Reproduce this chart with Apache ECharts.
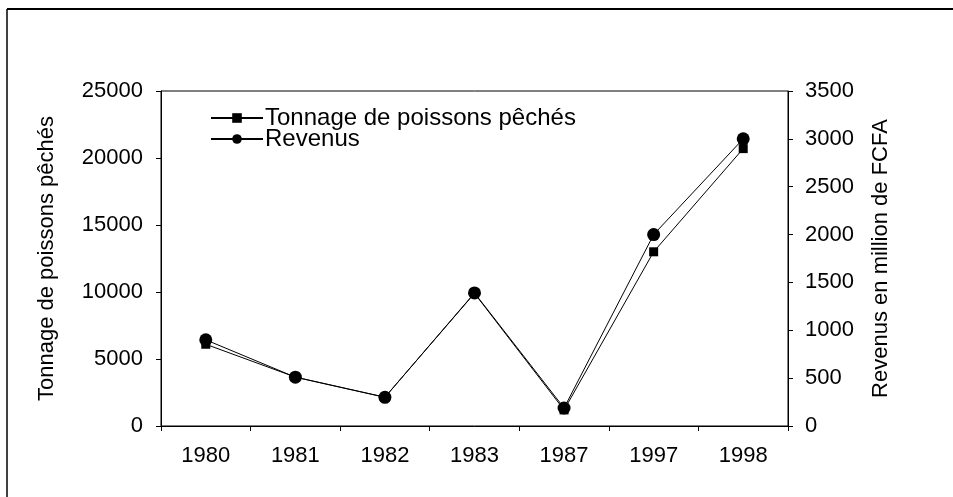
<!DOCTYPE html>
<html>
<head>
<meta charset="utf-8">
<script src="https://cdn.jsdelivr.net/npm/echarts@6/dist/echarts.min.js"></script>
<style>
  html, body { margin: 0; padding: 0; background: #fff; }
  #chart { width: 953px; height: 497px; }
</style>
</head>
<body>
<div id="chart"></div>
<script>
// données
const years = ['1980', '1981', '1982', '1983', '1987', '1997', '1998'];
const tonnage = [6100, 3650, 2150, 9900, 1200, 13000, 20700];   // axe gauche
const revenus = [900, 510, 300, 1390, 188, 2000, 3000];         // axe droit, million FCFA

const font = 'Liberation Sans, Arial, sans-serif';

let myChart = echarts.init(document.getElementById('chart'));
myChart.setOption({
  backgroundColor: '#fff',
  animation: false,
  textStyle: { fontFamily: font, color: '#000' },
  grid: {
    left: 161, right: 165, top: 91, bottom: 71,
    show: true, borderColor: '#000', borderWidth: 1
  },
  legend: {
    orient: 'vertical',
    left: 205, top: 101,
    itemWidth: 52, itemHeight: 12, itemGap: -3,
    textStyle: { fontSize: 24, color: '#000', fontFamily: font, padding: [0, 0, 0, -3] },
    data: ['Tonnage de poissons pêchés', 'Revenus']
  },
  xAxis: {
    type: 'category',
    data: years,
    boundaryGap: true,
    axisLine: { lineStyle: { color: '#000', width: 1 } },
    axisTick: { show: true, length: 5, lineStyle: { color: '#000' } },
    axisLabel: { color: '#000', fontSize: 22, margin: 19, fontFamily: font }
  },
  yAxis: [
    {
      type: 'value',
      min: 0, max: 25000, interval: 5000,
      name: 'Tonnage de poissons pêchés',
      nameLocation: 'middle', nameGap: 103, nameRotate: 90,
      nameTextStyle: { fontSize: 22, color: '#000', fontFamily: font },
      axisLine: { show: true, lineStyle: { color: '#000', width: 1 } },
      axisTick: { show: true, length: 5, lineStyle: { color: '#000' } },
      axisLabel: { color: '#000', fontSize: 22, margin: 18, fontFamily: font, formatter: v => String(v) },
      splitLine: { show: false }
    },
    {
      type: 'value',
      position: 'right',
      min: 0, max: 3500, interval: 500,
      name: 'Revenus en million de FCFA',
      nameLocation: 'middle', nameGap: 82, nameRotate: 90,
      nameTextStyle: { fontSize: 22, color: '#000', fontFamily: font },
      axisLine: { show: true, lineStyle: { color: '#000', width: 1 } },
      axisTick: { show: true, length: 5, lineStyle: { color: '#000' } },
      axisLabel: { color: '#000', fontSize: 22, margin: 17, fontFamily: font, formatter: v => String(v) },
      splitLine: { show: false }
    }
  ],
  series: [
    {
      name: 'Tonnage de poissons pêchés',
      type: 'line',
      yAxisIndex: 0,
      data: tonnage,
      symbol: 'rect',
      symbolSize: 9,
      itemStyle: { color: '#000' },
      lineStyle: { color: '#000', width: 1 }
    },
    {
      name: 'Revenus',
      type: 'line',
      yAxisIndex: 1,
      data: revenus,
      symbol: 'circle',
      symbolSize: 13,
      itemStyle: { color: '#000' },
      lineStyle: { color: '#000', width: 1 }
    }
  ],
  graphic: [
    // cadre extérieur (haut et gauche)
    { type: 'line', shape: { x1: 7, y1: 9, x2: 953, y2: 9 }, style: { stroke: '#000', lineWidth: 2 } },
    { type: 'line', shape: { x1: 7, y1: 9, x2: 7, y2: 497 }, style: { stroke: '#000', lineWidth: 1.5 } }
  ]
});
</script>
</body>
</html>
